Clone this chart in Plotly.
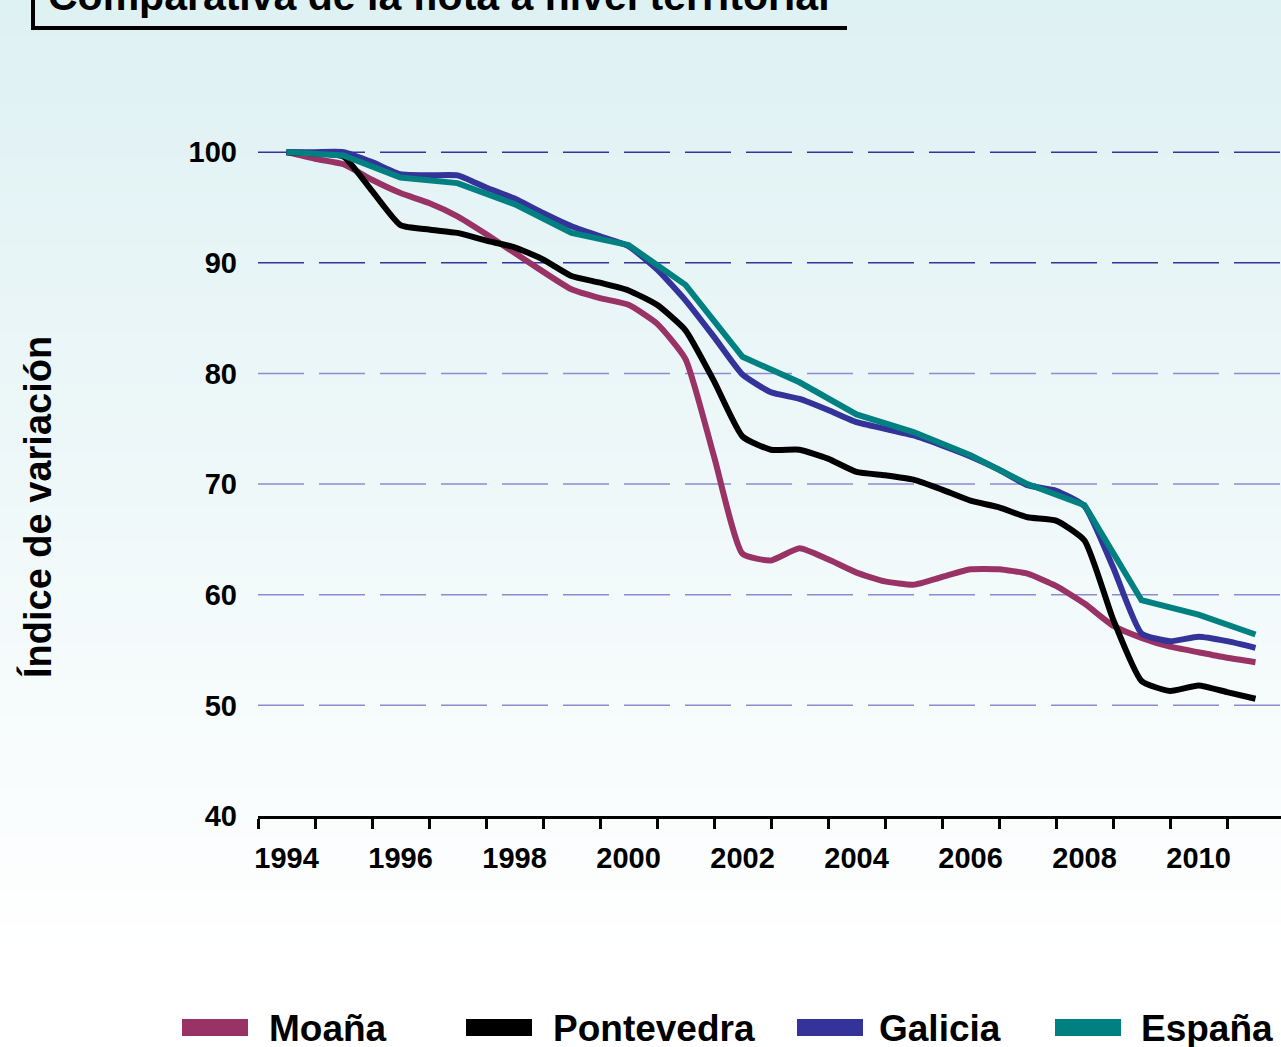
import plotly.graph_objects as go

# ---- data: fleet index (1994 = 100) ----
half_years = [1994.0, 1994.5, 1995.0, 1995.5, 1996.0, 1996.5, 1997.0, 1997.5,
              1998.0, 1998.5, 1999.0, 1999.5, 2000.0, 2000.5, 2001.0, 2001.5,
              2002.0, 2002.5, 2003.0, 2003.5, 2004.0, 2004.5, 2005.0, 2005.5,
              2006.0, 2006.5, 2007.0, 2007.5, 2008.0, 2008.5, 2009.0, 2009.5,
              2010.0, 2010.5, 2011.0]

moana = [100.0, 99.4, 98.9, 97.5, 96.3, 95.4, 94.2, 92.6,
         90.9, 89.2, 87.6, 86.8, 86.2, 84.5, 81.3, 72.5,
         63.7, 63.1, 64.2, 63.2, 62.0, 61.2, 60.9, 61.6,
         62.3, 62.3, 61.9, 60.8, 59.2, 57.2, 56.1, 55.3,
         54.8, 54.3, 53.9]

pontevedra = [100.0, 99.9, 99.6, 96.5, 93.4, 93.0, 92.7, 92.0,
              91.4, 90.3, 88.8, 88.2, 87.5, 86.2, 83.9, 79.3,
              74.3, 73.1, 73.1, 72.3, 71.1, 70.8, 70.4, 69.5,
              68.5, 67.9, 67.0, 66.7, 64.9, 57.8, 52.2, 51.3,
              51.8, 51.2, 50.6]

galicia = [100.0, 100.0, 100.0, 99.1, 98.0, 97.9, 97.9, 96.8,
           95.8, 94.5, 93.3, 92.4, 91.5, 89.4, 86.6, 83.3,
           79.9, 78.3, 77.7, 76.7, 75.6, 75.0, 74.4, 73.5,
           72.5, 71.3, 69.9, 69.4, 68.0, 62.5, 56.5, 55.8,
           56.2, 55.8, 55.2]

years = [1994, 1995, 1996, 1997, 1998, 1999, 2000, 2001, 2002,
         2003, 2004, 2005, 2006, 2007, 2008, 2009, 2010, 2011]
espana = [100.0, 99.7, 97.7, 97.2, 95.3, 92.7, 91.6, 88.0, 81.5,
          79.2, 76.3, 74.7, 72.6, 70.0, 68.1, 59.5, 58.2, 56.4]

series_names = ["Moaña", "Pontevedra", "Galicia", "España"]
series_colors = ["#993366", "#000000", "#333399", "#008080"]

x_labels = [1994, 1996, 1998, 2000, 2002, 2004, 2006, 2008, 2010]
x_tick_marks = [1993.5 + i for i in range(19)]
y_ticks = [40, 50, 60, 70, 80, 90, 100]
grid_values = [50, 60, 70, 80, 90, 100]

title_text = "Comparativa de la flota a nivel territorial"
y_title = "Índice de variación"

# ---- figure geometry (pixels) ----
W, H = 1281, 1047
ML, MR, MT, MB = 258, 0, 130, 231
PW, PH = W - ML - MR, H - MT - MB


def px(x):
    return (x - ML) / PW


def py(y):
    return (H - MB - y) / PH


FONT = "Liberation Sans, Arial, sans-serif"

fig = go.Figure()

traces = [(half_years, moana, "spline"),
          (half_years, pontevedra, "spline"),
          (half_years, galicia, "spline"),
          (years, espana, "linear")]
for (xs, ys, shape), name, color in zip(traces, series_names, series_colors):
    fig.add_trace(go.Scatter(
        x=xs, y=ys, name=name, mode="lines",
        line=dict(color=color, width=6, shape=shape, smoothing=0.5),
        showlegend=False,
    ))

shapes = []

# soft vertical background gradient
n_bands = 60
top_rgb = (222, 241, 243)
fade_end = 960
for i in range(n_bands):
    y0 = i * H / n_bands
    y1 = (i + 1) * H / n_bands + 1
    t = min(1.0, ((y0 + y1) / 2) / fade_end)
    r, g, b = [round(c + (255 - c) * t) for c in top_rgb]
    shapes.append(dict(type="rect", xref="paper", yref="paper",
                       x0=px(0), x1=px(W), y0=py(y1), y1=py(y0),
                       fillcolor=f"rgb({r},{g},{b})", line=dict(width=0),
                       layer="below"))

# dashed horizontal gridlines
for v in grid_values:
    shapes.append(dict(type="line", xref="paper", yref="y",
                       x0=0, x1=1, y0=v, y1=v,
                       line=dict(color="#333399" if v >= 90 else "#8c8ccf",
                                 width=1.5, dash="46px,15px"),
                       layer="below"))

# title frame
shapes.append(dict(type="line", xref="paper", yref="paper",
                   x0=px(33), x1=px(33), y0=py(29), y1=py(-5),
                   line=dict(color="black", width=4)))
shapes.append(dict(type="line", xref="paper", yref="paper",
                   x0=px(31), x1=px(847), y0=py(28), y1=py(28),
                   line=dict(color="black", width=4)))

# legend swatches
legend_items = [(182, 267), (466, 551), (797, 877), (1055, 1139)]
for (sx, tx), color in zip(legend_items, series_colors):
    shapes.append(dict(type="rect", xref="paper", yref="paper",
                       x0=px(sx), x1=px(sx + 66), y0=py(1036), y1=py(1019),
                       fillcolor=color, line=dict(width=0)))

annotations = []
for (sx, tx), name in zip(legend_items, series_names):
    annotations.append(dict(text=name, xref="paper", yref="paper",
                            x=px(tx), y=py(1028), xanchor="left",
                            yanchor="middle", showarrow=False,
                            font=dict(family=FONT, size=37, color="black",
                                      weight="bold")))

annotations.append(dict(text=title_text, xref="paper", yref="paper",
                        x=px(46), y=py(-4), xanchor="left", yanchor="middle",
                        showarrow=False,
                        font=dict(family=FONT, size=41, color="black",
                                  weight="bold")))

annotations.append(dict(text=y_title, xref="paper", yref="paper",
                        x=px(37), y=py(507), xanchor="center",
                        yanchor="middle", textangle=-90, showarrow=False,
                        font=dict(family=FONT, size=38, color="black",
                                  weight="bold")))

fig.update_layout(
    width=W, height=H,
    margin=dict(l=ML, r=MR, t=MT, b=MB, pad=0),
    paper_bgcolor="rgba(0,0,0,0)",
    plot_bgcolor="rgba(0,0,0,0)",
    shapes=shapes,
    annotations=annotations,
    showlegend=False,
    xaxis=dict(
        range=[1993.5, 1993.5 + PW / 57.0],
        tickmode="array", tickvals=x_labels,
        ticktext=[str(v) for v in x_labels],
        ticks="", showgrid=False, zeroline=False,
        showline=True, linecolor="black", linewidth=3,
        ticklabelstandoff=14,
        tickfont=dict(family=FONT, size=29, color="black", weight="bold"),
        minor=dict(tickmode="array", tickvals=x_tick_marks,
                   ticks="outside", ticklen=10, tickwidth=3,
                   tickcolor="black", showgrid=False),
    ),
    yaxis=dict(
        range=[40, 102],
        tickmode="array", tickvals=y_ticks,
        ticks="", showgrid=False, zeroline=False, showline=False,
        ticklabelstandoff=20,
        tickfont=dict(family=FONT, size=29, color="black", weight="bold"),
    ),
)

fig.write_html("out.html")
